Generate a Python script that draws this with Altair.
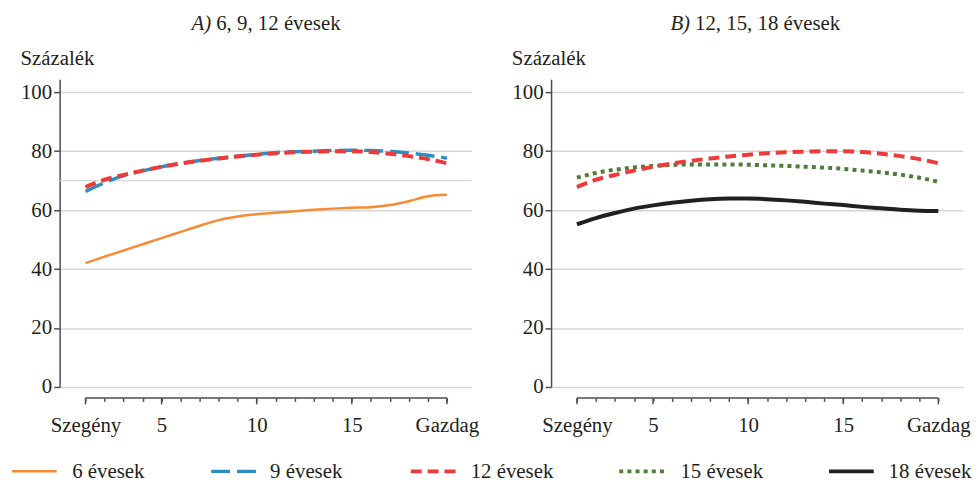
import altair as alt
import pandas as pd

# ---------------- data ----------------
deciles = list(range(1, 21))
age6 = [42.0, 44.2, 46.3, 48.4, 50.5, 52.6, 54.7, 56.6, 57.8, 58.6,
        59.1, 59.6, 60.1, 60.5, 60.8, 61.0, 61.7, 63.0, 64.7, 65.2]
age9 = [66.3, 69.3, 71.7, 73.3, 74.7, 75.8, 76.8, 77.6, 78.3, 78.9,
        79.5, 79.8, 80.0, 80.2, 80.3, 80.2, 79.9, 79.4, 78.6, 77.6]
age12 = [67.8, 70.3, 71.9, 73.4, 74.7, 75.8, 76.7, 77.5, 78.2, 78.8,
         79.3, 79.6, 79.8, 80.0, 80.0, 79.7, 79.1, 78.3, 77.3, 75.9]
age15 = [71.0, 72.6, 73.7, 74.5, 75.0, 75.3, 75.5, 75.5, 75.5, 75.4,
         75.2, 75.0, 74.7, 74.4, 74.0, 73.4, 72.8, 72.0, 71.0, 69.6]
age18 = [55.2, 57.3, 59.0, 60.5, 61.6, 62.5, 63.2, 63.7, 63.9, 63.9,
         63.7, 63.3, 62.8, 62.2, 61.7, 61.1, 60.6, 60.1, 59.8, 59.7]

series_names = ["6 évesek", "9 évesek", "12 évesek", "15 évesek", "18 évesek"]
series_values = [age6, age9, age12, age15, age18]
panel_series = [[0, 1, 2], [3, 2, 4]]
panel_letters = ["A)", "B)"]
panel_titles = ["6, 9, 12 évesek", "12, 15, 18 évesek"]
y_ticks = [0, 20, 40, 60, 80, 100]
x_major = [1, 5, 10, 15, 20]
extra_grid = [[70], []]
y_title = "Százalék"

# ---------------- style ----------------
FONT = "Liberation Serif"
FS = 21
TXT = "#231f20"
AX = "#4d4d4d"
GRID = "#d6d6d6"
W, H = 415, 310
styles = [
    dict(color="#f68b33", strokeWidth=2.5),
    dict(color="#2a8fc2", strokeWidth=3.5, strokeDash=[19, 7]),
    dict(color="#ee3a3a", strokeWidth=4, strokeDash=[11, 6]),
    dict(color="#4e7d38", strokeWidth=4, strokeDash=[4, 4.2]),
    dict(color="#231f20", strokeWidth=4),
]
legend_line_x = [-48, 152.7, 353.7, 563.7, 775]
legend_text_x = [12.7, 212, 414, 625.3, 835]
title_x = [152.7, 140]

xs = alt.Scale(domain=[-0.36, 21.3], nice=False, zero=False)
ys = alt.Scale(domain=[0, 104.4], nice=False, zero=False)

label_expr = ("datum.value == 1 ? 'Szegény' : datum.value == 20 ? 'Gazdag' : "
              "(datum.value % 5 == 0 ? datum.value : '')")

x_axis = alt.Axis(
    orient="bottom", offset=11, values=deciles, domain=False, grid=False,
    tickSize=3.5, tickColor=AX, tickWidth=1.5, labelExpr=label_expr,
    labelBaseline="alphabetic", labelPadding=30.5, labelFont=FONT,
    labelFontSize=FS, labelColor=TXT, labelOverlap=False, labelFlush=False,
    title=None,
)
y_axis = alt.Axis(
    values=y_ticks, grid=True, gridColor=GRID, gridWidth=1.5,
    domainColor=AX, domainWidth=1.5, tickColor=AX, tickSize=6, tickWidth=1.5,
    labelFont=FONT, labelFontSize=FS, labelColor=TXT, labelPadding=2,
    title=y_title, titleAngle=0, titleAlign="left", titleBaseline="alphabetic",
    titleX=-40, titleY=-15.3, titleFont=FONT, titleFontSize=FS,
    titleFontWeight="normal", titleColor=TXT,
)


def X(field):
    return alt.X(field, scale=xs, axis=x_axis)


def Y(field):
    return alt.Y(field, scale=ys, axis=y_axis)


def panel(p):
    layers = []
    if extra_grid[p]:
        layers.append(
            alt.Chart(pd.DataFrame({"v": extra_grid[p]}))
            .mark_rule(color=GRID, strokeWidth=1.5)
            .encode(y=Y("v:Q"), x=alt.value(0), x2=alt.value(W))
        )
    for s in panel_series[p]:
        df = pd.DataFrame({"decile": deciles, "value": series_values[s]})
        layers.append(
            alt.Chart(df)
            .mark_line(interpolate="monotone", strokeCap="butt", **styles[s])
            .encode(x=X("decile:Q"), y=Y("value:Q"))
        )
    # x axis line between first and last decile
    layers.append(
        alt.Chart(pd.DataFrame({"a": [deciles[0]], "b": [deciles[-1]]}))
        .mark_rule(color=AX, strokeWidth=1.5)
        .encode(x=X("a:Q"), x2="b:Q", y=alt.value(H + 11))
    )
    # longer major ticks
    layers.append(
        alt.Chart(pd.DataFrame({"t": x_major}))
        .mark_rule(color=AX, strokeWidth=1.5)
        .encode(x=X("t:Q"), y=alt.value(H + 11), y2=alt.value(H + 17.5))
    )
    # panel title: italic letter + upright text
    layers.append(
        alt.Chart(pd.DataFrame({"t": [panel_letters[p]]}))
        .mark_text(font=FONT, fontSize=FS, fontStyle="italic", color=TXT,
                   align="right", baseline="alphabetic")
        .encode(text="t:N", x=alt.value(title_x[p]), y=alt.value(-50))
    )
    layers.append(
        alt.Chart(pd.DataFrame({"t": [panel_titles[p]]}))
        .mark_text(font=FONT, fontSize=FS, color=TXT,
                   align="left", baseline="alphabetic")
        .encode(text="t:N", x=alt.value(title_x[p] + 5), y=alt.value(-50))
    )
    if p == 0:
        for i, name in enumerate(series_names):
            layers.append(
                alt.Chart(pd.DataFrame({"n": [name]}))
                .mark_rule(strokeCap="butt", **styles[i])
                .encode(x=alt.value(legend_line_x[i]),
                        x2=alt.value(legend_line_x[i] + 45),
                        y=alt.value(395))
            )
            layers.append(
                alt.Chart(pd.DataFrame({"n": [name]}))
                .mark_text(font=FONT, fontSize=FS, color=TXT, align="left",
                           baseline="alphabetic")
                .encode(text="n:N", x=alt.value(legend_text_x[i]),
                        y=alt.value(401.5))
            )
    return alt.layer(*layers).properties(width=W, height=H)


chart = (
    alt.hconcat(panel(0), panel(1), spacing=80, bounds="flush")
    .properties(padding={"left": 2, "top": 3, "right": 0, "bottom": 0})
    .configure_view(stroke=None)
)

chart.save("out.html", embed_options={"renderer": "svg", "actions": False})
